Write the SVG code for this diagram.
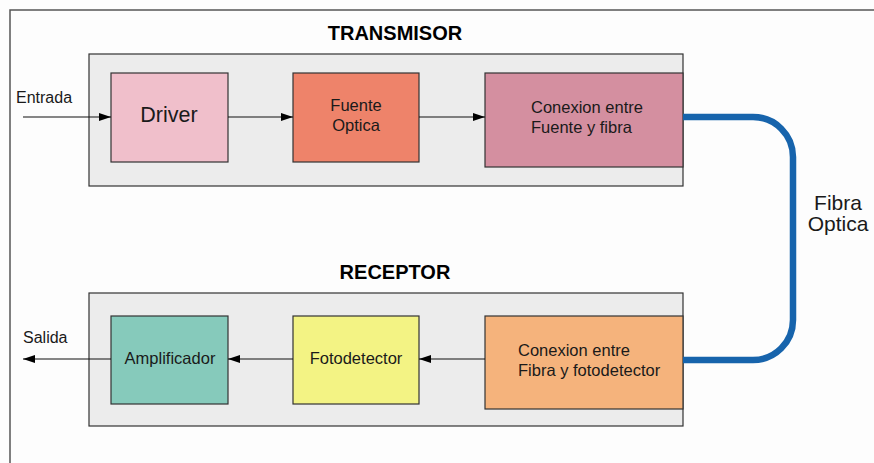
<svg xmlns="http://www.w3.org/2000/svg" width="874" height="463" viewBox="0 0 874 463">
<style>
text{font-family:"Liberation Sans",Arial,sans-serif;fill:#1a1a1a}
.grp{fill:#ececec;stroke:#333;stroke-width:1.2}
.blk{stroke:#333;stroke-width:1.2}
.ln{stroke:#111;stroke-width:1.2;fill:none;marker-end:url(#ah)}
.t{font-size:16.5px}
.title{font-size:20px;font-weight:bold;fill:#000;text-anchor:middle}
</style>
<defs>
<marker id="ah" viewBox="0 0 12 8" refX="12" refY="4" markerWidth="12" markerHeight="8" markerUnits="userSpaceOnUse" orient="auto">
<path d="M0,0 L12,4 L0,8 Z" fill="#000"/>
</marker>
</defs>
<rect x="0" y="0" width="874" height="463" fill="#fdfdfd"/>
<rect x="10" y="10" width="900" height="500" fill="none" stroke="#555" stroke-width="1.5"/>

<g id="transmisor">
<text class="title" x="395" y="40">TRANSMISOR</text>
<rect class="grp" x="89" y="54" width="594" height="132"/>
</g>
<g id="driver">
<rect class="blk" x="111" y="73" width="117" height="89" fill="#f0bfcb"/>
<text x="169" y="122" font-size="21.5" text-anchor="middle">Driver</text>
</g>
<g id="fuente">
<rect class="blk" x="293" y="73" width="126" height="89" fill="#ee836a"/>
<text class="t" x="356" y="111" text-anchor="middle">Fuente</text>
<text class="t" x="356" y="131" text-anchor="middle">Optica</text>
</g>
<g id="conexion-tx">
<rect class="blk" x="485" y="73" width="198" height="94" fill="#d48fa0"/>
<text class="t" x="531" y="113">Conexion entre</text>
<text class="t" x="531" y="133">Fuente y fibra</text>
</g>

<g id="receptor">
<text class="title" x="395" y="279">RECEPTOR</text>
<rect class="grp" x="89" y="293" width="594" height="133"/>
</g>
<g id="amplificador">
<rect class="blk" x="111" y="316" width="117" height="88" fill="#86cabb"/>
<text class="t" x="170" y="364" text-anchor="middle">Amplificador</text>
</g>
<g id="fotodetector">
<rect class="blk" x="293" y="316" width="126" height="88" fill="#f3f384"/>
<text class="t" x="356" y="364" text-anchor="middle">Fotodetector</text>
</g>
<g id="conexion-rx">
<rect class="blk" x="485" y="316" width="198" height="93" fill="#f5b37c"/>
<text class="t" x="518" y="356">Conexion entre</text>
<text class="t" x="518" y="376">Fibra y fotodetector</text>
</g>

<g id="fibra-label">
<text x="838" y="210" font-size="21" text-anchor="middle">Fibra</text>
<text x="838" y="231" font-size="21" text-anchor="middle">Optica</text>
</g>
<g id="entrada-label"><text x="16" y="103" font-size="16">Entrada</text></g>
<g id="salida-label"><text x="23" y="343" font-size="16">Salida</text></g>

<g id="connectors">
<line class="ln" x1="23" y1="117" x2="111" y2="117"/>
<line class="ln" x1="228" y1="117" x2="293" y2="117"/>
<line class="ln" x1="419" y1="117" x2="485" y2="117"/>
<line class="ln" x1="485" y1="359" x2="419" y2="359"/>
<line class="ln" x1="293" y1="359" x2="228" y2="359"/>
<line class="ln" x1="111" y1="359" x2="23" y2="359"/>
<path d="M683,117 H753 A40,40 0 0 1 793,157 V320 A40,40 0 0 1 753,360 H683" fill="none" stroke="#1764ac" stroke-width="6.5"/>
</g>
</svg>
